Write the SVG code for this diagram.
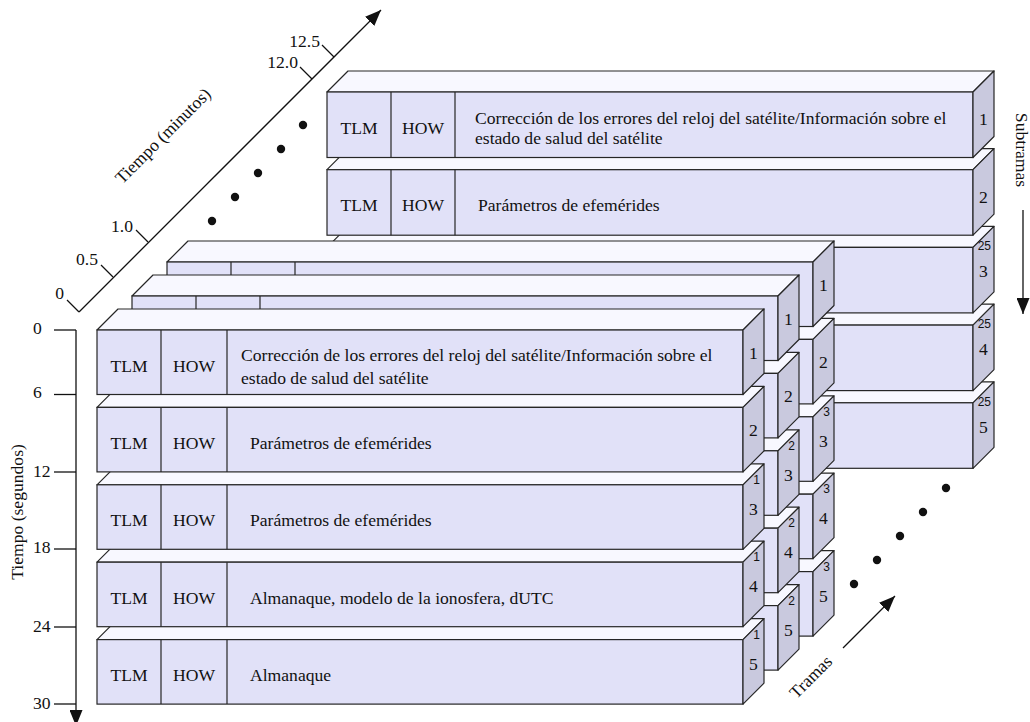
<svg xmlns="http://www.w3.org/2000/svg" width="1030" height="722" viewBox="0 0 1030 722">
<style>
.fr{fill:#E1E1F8;stroke:#262626;stroke-width:1.2}
.tp{fill:#F8F8FF;stroke:#262626;stroke-width:1.2;stroke-linejoin:round}
.sd{fill:#C9C9DE;stroke:#262626;stroke-width:1.2;stroke-linejoin:round}
.dv{stroke:#262626;stroke-width:1.2}
.ax{stroke:#111;stroke-width:1.3;fill:none}
text{font-family:"Liberation Serif","Times New Roman",serif;font-size:17.6px;fill:#111}
.c{text-anchor:middle}
.sm{font-family:"Liberation Sans",Arial,sans-serif;font-size:12px;text-anchor:end}
.e{text-anchor:end}
</style>
<defs>
<marker id="arr" markerUnits="userSpaceOnUse" markerWidth="17" markerHeight="13" refX="16" refY="6.5" orient="auto">
<path d="M0,0 L16,6.5 L0,13 z" fill="#111"/>
</marker>
</defs>

<!-- Frame 25 (back) -->
<g id="frame25">
<g id="f25b5"><polygon class="tp" points="327,402.8 973,402.8 994,381.8 348,381.8"/><rect class="fr" x="327" y="402.8" width="646" height="65.5"/><polygon class="sd" points="973,402.8 994,381.8 994,447.3 973,468.3"/><text class="sm" x="991" y="405.8">25</text><text class="c" x="983.5" y="433">5</text></g>
<g id="f25b4"><polygon class="tp" points="327,325.1 973,325.1 994,304.1 348,304.1"/><rect class="fr" x="327" y="325.1" width="646" height="65.5"/><polygon class="sd" points="973,325.1 994,304.1 994,369.6 973,390.6"/><text class="sm" x="991" y="328.1">25</text><text class="c" x="983.5" y="355">4</text></g>
<g id="f25b3"><polygon class="tp" points="327,247.4 973,247.4 994,226.4 348,226.4"/><rect class="fr" x="327" y="247.4" width="646" height="65.5"/><polygon class="sd" points="973,247.4 994,226.4 994,291.9 973,312.9"/><text class="sm" x="991" y="250.4">25</text><text class="c" x="983.5" y="277">3</text></g>
<g id="f25b2"><polygon class="tp" points="327,169.7 973,169.7 994,148.7 348,148.7"/><rect class="fr" x="327" y="169.7" width="646" height="65.5"/><polygon class="sd" points="973,169.7 994,148.7 994,214.2 973,235.2"/><line class="dv" x1="391" y1="169.7" x2="391" y2="235.2"/><line class="dv" x1="455" y1="169.7" x2="455" y2="235.2"/><text class="c" x="359" y="211.2">TLM</text><text class="c" x="423" y="211.2">HOW</text><text x="478" y="211.2">Parámetros de efemérides</text><text class="c" x="983.5" y="202.7">2</text></g>
<g id="f25b1"><polygon class="tp" points="327,92 973,92 994,71 348,71"/><rect class="fr" x="327" y="92" width="646" height="65.5"/><polygon class="sd" points="973,92 994,71 994,136.5 973,157.5"/><line class="dv" x1="391" y1="92" x2="391" y2="157.5"/><line class="dv" x1="455" y1="92" x2="455" y2="157.5"/><text class="c" x="359" y="133.5">TLM</text><text class="c" x="423" y="133.5">HOW</text><text x="475" y="124">Corrección de los errores del reloj del satélite/Información sobre el</text><text x="475" y="144">estado de salud del satélite</text><text class="c" x="983.5" y="125">1</text></g>
</g>

<!-- Frame 3 -->
<g id="frame3">
<g id="f3b5"><polygon class="tp" points="167,571.6 813,571.6 834,550.6 188,550.6"/><rect class="fr" x="167" y="571.6" width="646" height="64.5"/><polygon class="sd" points="813,571.6 834,550.6 834,615.1 813,636.1"/><text class="sm" x="830" y="570.6">3</text><text class="c" x="823.5" y="601.6">5</text></g>
<g id="f3b4"><polygon class="tp" points="167,494.2 813,494.2 834,473.2 188,473.2"/><rect class="fr" x="167" y="494.2" width="646" height="64.5"/><polygon class="sd" points="813,494.2 834,473.2 834,537.7 813,558.7"/><text class="sm" x="830" y="493.2">3</text><text class="c" x="823.5" y="524.2">4</text></g>
<g id="f3b3"><polygon class="tp" points="167,416.8 813,416.8 834,395.8 188,395.8"/><rect class="fr" x="167" y="416.8" width="646" height="64.5"/><polygon class="sd" points="813,416.8 834,395.8 834,460.3 813,481.3"/><text class="sm" x="830" y="415.8">3</text><text class="c" x="823.5" y="446.8">3</text></g>
<g id="f3b2"><polygon class="tp" points="167,339.4 813,339.4 834,318.4 188,318.4"/><rect class="fr" x="167" y="339.4" width="646" height="64.5"/><polygon class="sd" points="813,339.4 834,318.4 834,382.9 813,403.9"/><text class="c" x="823.5" y="367.9">2</text></g>
<g id="f3b1"><polygon class="tp" points="167,262 813,262 834,241 188,241"/><rect class="fr" x="167" y="262" width="646" height="64.5"/><polygon class="sd" points="813,262 834,241 834,305.5 813,326.5"/><line class="dv" x1="231" y1="262" x2="231" y2="326.5"/><line class="dv" x1="295" y1="262" x2="295" y2="326.5"/><text class="c" x="823.5" y="290.5">1</text></g>
</g>

<!-- Frame 2 -->
<g id="frame2">
<g id="f2b5"><polygon class="tp" points="132,605.6 778,605.6 799,584.6 153,584.6"/><rect class="fr" x="132" y="605.6" width="646" height="64.5"/><polygon class="sd" points="778,605.6 799,584.6 799,649.1 778,670.1"/><text class="sm" x="795" y="604.6">2</text><text class="c" x="788.5" y="635.6">5</text></g>
<g id="f2b4"><polygon class="tp" points="132,528.2 778,528.2 799,507.2 153,507.2"/><rect class="fr" x="132" y="528.2" width="646" height="64.5"/><polygon class="sd" points="778,528.2 799,507.2 799,571.7 778,592.7"/><text class="sm" x="795" y="527.2">2</text><text class="c" x="788.5" y="558.2">4</text></g>
<g id="f2b3"><polygon class="tp" points="132,450.8 778,450.8 799,429.8 153,429.8"/><rect class="fr" x="132" y="450.8" width="646" height="64.5"/><polygon class="sd" points="778,450.8 799,429.8 799,494.3 778,515.3"/><text class="sm" x="795" y="449.8">2</text><text class="c" x="788.5" y="480.8">3</text></g>
<g id="f2b2"><polygon class="tp" points="132,373.4 778,373.4 799,352.4 153,352.4"/><rect class="fr" x="132" y="373.4" width="646" height="64.5"/><polygon class="sd" points="778,373.4 799,352.4 799,416.9 778,437.9"/><text class="c" x="788.5" y="401.9">2</text></g>
<g id="f2b1"><polygon class="tp" points="132,296 778,296 799,275 153,275"/><rect class="fr" x="132" y="296" width="646" height="64.5"/><polygon class="sd" points="778,296 799,275 799,339.5 778,360.5"/><line class="dv" x1="196" y1="296" x2="196" y2="360.5"/><line class="dv" x1="260" y1="296" x2="260" y2="360.5"/><text class="c" x="788.5" y="324.5">1</text></g>
</g>

<!-- Frame 1 (front) -->
<g id="frame1">
<g id="f1b5"><polygon class="tp" points="97,639.6 743,639.6 764,618.6 118,618.6"/><rect class="fr" x="97" y="639.6" width="646" height="64.5"/><polygon class="sd" points="743,639.6 764,618.6 764,683.1 743,704.1"/><line class="dv" x1="161" y1="639.6" x2="161" y2="704.1"/><line class="dv" x1="227" y1="639.6" x2="227" y2="704.1"/><text class="c" x="129" y="681.1">TLM</text><text class="c" x="194" y="681.1">HOW</text><text x="250" y="681.1">Almanaque</text><text class="sm" x="760" y="638.6">1</text><text class="c" x="753.5" y="669.6">5</text></g>
<g id="f1b4"><polygon class="tp" points="97,562.2 743,562.2 764,541.2 118,541.2"/><rect class="fr" x="97" y="562.2" width="646" height="64.5"/><polygon class="sd" points="743,562.2 764,541.2 764,605.7 743,626.7"/><line class="dv" x1="161" y1="562.2" x2="161" y2="626.7"/><line class="dv" x1="227" y1="562.2" x2="227" y2="626.7"/><text class="c" x="129" y="603.7">TLM</text><text class="c" x="194" y="603.7">HOW</text><text x="250" y="603.7">Almanaque, modelo de la ionosfera, dUTC</text><text class="sm" x="760" y="561.2">1</text><text class="c" x="753.5" y="592.2">4</text></g>
<g id="f1b3"><polygon class="tp" points="97,484.8 743,484.8 764,463.8 118,463.8"/><rect class="fr" x="97" y="484.8" width="646" height="64.5"/><polygon class="sd" points="743,484.8 764,463.8 764,528.3 743,549.3"/><line class="dv" x1="161" y1="484.8" x2="161" y2="549.3"/><line class="dv" x1="227" y1="484.8" x2="227" y2="549.3"/><text class="c" x="129" y="526.3">TLM</text><text class="c" x="194" y="526.3">HOW</text><text x="250" y="526.3">Parámetros de efemérides</text><text class="sm" x="760" y="483.8">1</text><text class="c" x="753.5" y="514.8">3</text></g>
<g id="f1b2"><polygon class="tp" points="97,407.4 743,407.4 764,386.4 118,386.4"/><rect class="fr" x="97" y="407.4" width="646" height="64.5"/><polygon class="sd" points="743,407.4 764,386.4 764,450.9 743,471.9"/><line class="dv" x1="161" y1="407.4" x2="161" y2="471.9"/><line class="dv" x1="227" y1="407.4" x2="227" y2="471.9"/><text class="c" x="129" y="448.9">TLM</text><text class="c" x="194" y="448.9">HOW</text><text x="250" y="448.9">Parámetros de efemérides</text><text class="c" x="753.5" y="436.4">2</text></g>
<g id="f1b1"><polygon class="tp" points="97,330 743,330 764,309 118,309"/><rect class="fr" x="97" y="330" width="646" height="64.5"/><polygon class="sd" points="743,330 764,309 764,373.5 743,394.5"/><line class="dv" x1="161" y1="330" x2="161" y2="394.5"/><line class="dv" x1="227" y1="330" x2="227" y2="394.5"/><text class="c" x="129" y="371.5">TLM</text><text class="c" x="194" y="371.5">HOW</text><text x="241" y="361">Corrección de los errores del reloj del satélite/Información sobre el</text><text x="241" y="384">estado de salud del satélite</text><text class="c" x="753.5" y="358.5">1</text></g>
</g>

<!-- Connectors: axes and arrows -->
<g id="connectors">
<line class="ax" x1="79" y1="312" x2="381" y2="10" marker-end="url(#arr)"/>
<line class="ax" x1="67" y1="300" x2="79" y2="312"/>
<line class="ax" x1="101" y1="265" x2="113" y2="277"/>
<line class="ax" x1="136" y1="230" x2="148" y2="242"/>
<line class="ax" x1="300" y1="67" x2="312" y2="79"/>
<line class="ax" x1="322" y1="45" x2="334" y2="57"/>
<line class="ax" x1="76" y1="330" x2="76" y2="726" marker-end="url(#arr)"/>
<line class="ax" x1="54" y1="330" x2="76" y2="330"/>
<line class="ax" x1="54" y1="394.5" x2="76" y2="394.5"/>
<line class="ax" x1="54" y1="472" x2="76" y2="472"/>
<line class="ax" x1="54" y1="549" x2="76" y2="549"/>
<line class="ax" x1="54" y1="627" x2="76" y2="627"/>
<line class="ax" x1="54" y1="704" x2="76" y2="704"/>
<line class="ax" x1="1023" y1="210" x2="1023" y2="314" marker-end="url(#arr)"/>
<line class="ax" x1="843" y1="648" x2="895" y2="596" marker-end="url(#arr)"/>
</g>

<g id="dots" fill="#111">
<circle cx="303" cy="125" r="4.2"/><circle cx="281" cy="149" r="4.2"/><circle cx="258" cy="173" r="4.2"/><circle cx="235" cy="197" r="4.2"/><circle cx="212" cy="221" r="4.2"/>
<circle cx="946" cy="488" r="4.2"/><circle cx="923" cy="512" r="4.2"/><circle cx="900" cy="536" r="4.2"/><circle cx="877" cy="560" r="4.2"/><circle cx="854" cy="584" r="4.2"/>
</g>

<g id="labels">
<text class="e" x="64" y="299">0</text>
<text class="e" x="98" y="265">0.5</text>
<text class="e" x="133" y="232">1.0</text>
<text class="e" x="298" y="68">12.0</text>
<text class="e" x="320" y="47">12.5</text>
<text class="c" transform="translate(167,140) rotate(-45)">Tiempo (minutos)</text>
<text x="33" y="334">0</text>
<text x="33" y="398">6</text>
<text x="33" y="477">12</text>
<text x="33" y="553">18</text>
<text x="33" y="632">24</text>
<text x="33" y="709">30</text>
<text class="c" transform="translate(23,512) rotate(-90)">Tiempo (segundos)</text>
<text class="c" transform="translate(1016,150) rotate(90)">Subtramas</text>
<text class="c" transform="translate(815,681) rotate(-45)">Tramas</text>
</g>
</svg>
